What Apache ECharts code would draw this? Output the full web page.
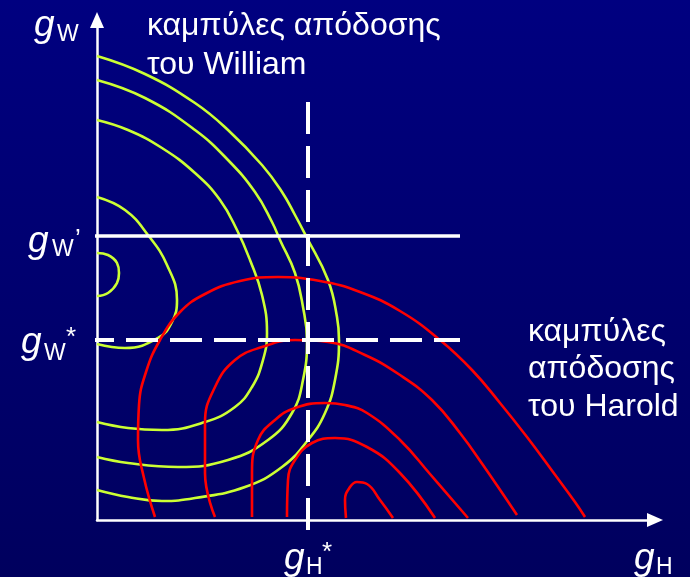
<!DOCTYPE html>
<html>
<head>
<meta charset="utf-8">
<title>καμπύλες απόδοσης</title>
<script src="https://cdn.jsdelivr.net/npm/echarts@6/dist/echarts.min.js"></script>
<style>
html, body { margin: 0; padding: 0; background: #000070; }
#main { width: 690px; height: 577px; }
</style>
</head>
<body>
<div id="main"></div>
<script>
// καμπύλες απόδοσης του William (x = g_H, y = g_W)
var william1 = [[0,464],[48,446],[98,417],[131,390],[165,355],[185,328],[198,305],[209,284],[231,240],[240,203],[242,180],[238,140],[228,107],[211,80],[185,53],[148,33],[98,22],[65,19],[31,23],[0,30]];
var william2 = [[0,440],[48,422],[98,390],[131,360],[158,328],[175,298],[183,280],[198,247],[206,213],[210,180],[206,140],[195,107],[171,80],[131,60],[81,53],[31,57],[0,63]];
var william3 = [[0,400],[31,390],[65,372],[98,347],[123,320],[140,290],[153,260],[165,225],[170,187],[166,160],[155,133],[138,113],[108,98],[65,90],[31,92],[0,98]];
var william4 = [[0,323],[28,310],[51,285],[70,255],[80,220],[75,198],[61,182],[28,172],[0,176]];
var william5 = [[0,267],[11,265],[20,257],[22,247],[20,237],[11,227],[0,224]];

// καμπύλες απόδοσης του Harold
var harold1 = [[58,3],[47,42],[41,80],[42,115],[49,148],[63,180],[83,208],[108,226],[143,239],[181,243],[223,239],[263,228],[303,209],[343,180],[375,150],[403,117],[430,83],[456,48],[478,18],[488,3]];
var harold2 = [[118,3],[108,47],[108,97],[118,133],[138,160],[165,173],[198,180],[231,178],[268,165],[303,145],[335,120],[363,87],[386,55],[420,5]];
var harold3 = [[155,3],[155,47],[161,80],[178,100],[198,112],[228,117],[248,115],[270,107],[303,80],[333,46],[371,2]];
var harold4 = [[190,3],[191,40],[198,60],[215,77],[238,82],[270,73],[303,47],[338,2]];
var harold5 = [[249,2],[248,20],[253,33],[260,38],[270,36],[283,20],[296,2]];

// επίπεδα g_W', g_W*, g_H*
var gWPrime = 284;
var gWStar = 180;
var gHStar = 211;
var hLineFrom = -15, hLineTo = 363;
var vLineFrom = 418, vLineTo = -10;

var FONT = '"Liberation Sans", Arial, sans-serif';

function txt(s, x, y, size, italic) {
    return {
        type: 'text', x: x, y: y, silent: true,
        style: {
            text: s, fill: '#ffffff', fontSize: size, fontFamily: FONT,
            fontStyle: italic ? 'italic' : 'normal',
            align: 'left', verticalAlign: 'middle'
        }
    };
}

function curve(name, data, color) {
    return {
        name: name, type: 'line', data: data, smooth: 0.45,
        showSymbol: false, clip: false, silent: true,
        lineStyle: { color: color, width: 2.6 }
    };
}

var chart = echarts.init(document.getElementById('main'));

var series = [];
[william1, william2, william3, william4, william5].forEach(function (d, i) {
    series.push(curve('William ' + (i + 1), d, '#ccff33'));
});
[harold1, harold2, harold3, harold4, harold5].forEach(function (d, i) {
    series.push(curve('Harold ' + (i + 1), d, '#ff0000'));
});

series.push({
    name: "g_W'", type: 'line', showSymbol: false, clip: false, silent: true,
    data: [[hLineFrom, gWPrime], [hLineTo, gWPrime]],
    lineStyle: { color: '#ffffff', width: 3.5 }
});
series.push({
    name: 'g_W*', type: 'line', showSymbol: false, clip: false, silent: true,
    data: [[hLineFrom, gWStar], [hLineTo, gWStar]],
    lineStyle: { color: '#ffffff', width: 4, type: [32, 12], dashOffset: 0 }
});
series.push({
    name: 'g_H*', type: 'line', showSymbol: false, clip: false, silent: true,
    data: [[gHStar, vLineFrom], [gHStar, vLineTo]],
    lineStyle: { color: '#ffffff', width: 4, type: [32, 12], dashOffset: 0 }
});

var option = {
    animation: false,
    backgroundColor: new echarts.graphic.LinearGradient(0, 0, 0, 1, [
        { offset: 0, color: '#000080' },
        { offset: 1, color: '#00005e' }
    ]),
    grid: { left: 97, top: 20, width: 558, height: 500 },
    xAxis: {
        type: 'value', min: 0, max: 558,
        axisLine: { show: true, symbol: ['none', 'triangle'], symbolSize: [14, 16],
            lineStyle: { color: '#ffffff', width: 2.5 } },
        axisTick: { show: false }, axisLabel: { show: false }, splitLine: { show: false }
    },
    yAxis: {
        type: 'value', min: 0, max: 500,
        axisLine: { show: true, symbol: ['none', 'triangle'], symbolSize: [14, 16],
            lineStyle: { color: '#ffffff', width: 2.5 } },
        axisTick: { show: false }, axisLabel: { show: false }, splitLine: { show: false }
    },
    series: series,
    graphic: [
        txt('g', 34, 26, 37, true), txt('W', 57, 35, 23),
        txt('καμπύλες απόδοσης', 147, 26, 32), txt('του William', 147, 65, 32),
        txt('καμπύλες', 528, 332, 32), txt('απόδοσης', 528, 369, 32), txt('του Harold', 528, 407, 32),
        txt('g', 28, 242, 37, true), txt('W', 52, 250, 23), txt('’', 75, 240, 26),
        txt('g', 21, 343, 37, true), txt('W', 44, 354, 23), txt('*', 66, 338, 26),
        txt('g', 284, 559, 37, true), txt('H', 306, 568, 23), txt('*', 322, 553, 26),
        txt('g', 634, 559, 37, true), txt('H', 656, 568, 23)
    ]
};

chart.setOption(option);
</script>
</body>
</html>
